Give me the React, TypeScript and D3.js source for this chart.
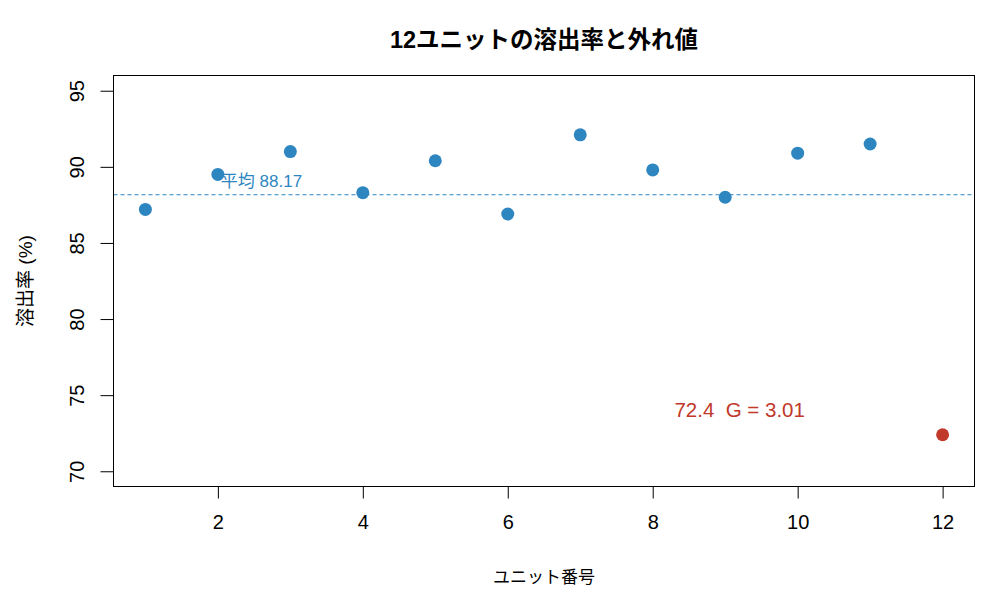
import React, { useEffect, useRef } from 'react';
import * as d3 from 'd3';

const units = [1, 2, 3, 4, 5, 6, 7, 8, 9, 10, 11, 12];
const dissolution = [87.2, 89.5, 91.0, 88.3, 90.4, 86.9, 92.1, 89.8, 88.0, 90.9, 91.5, 72.4];
const outlierIndex = 11;
const gStat = 3.01;
const xTicks = [2, 4, 6, 8, 10, 12];
const yTicks = [70, 75, 80, 85, 90, 95];

const BLUE = '#2e86c1';
const RED = '#c0392b';
const FONT = '"Liberation Sans", Arial, "Noto Sans CJK JP", sans-serif';

export default function App() {
  const svgRef = useRef<SVGSVGElement>(null);

  useEffect(() => {
    if (!svgRef.current) return;
    const svg = d3.select(svgRef.current);
    svg.selectAll('*').remove();

    const left = 113.5, right = 974.5, top = 75.5, bottom = 486.5;

    const x = d3.scaleLinear().domain([0.56, 12.44]).range([left, right]);
    const y = d3.scaleLinear().domain([69, 96]).range([bottom, top]);

    const mean = d3.mean(dissolution) || 0;

    // title
    svg.append('text')
      .attr('x', (left + right) / 2)
      .attr('y', 48)
      .attr('text-anchor', 'middle')
      .attr('font-size', 23.5)
      .attr('font-weight', 'bold')
      .attr('font-family', FONT)
      .text('12ユニットの溶出率と外れ値');

    // mean line
    svg.append('line')
      .attr('x1', left).attr('x2', right)
      .attr('y1', y(mean)).attr('y2', y(mean))
      .attr('stroke', BLUE)
      .attr('stroke-width', 1)
      .attr('stroke-dasharray', '4,3');

    svg.append('text')
      .attr('x', x(2) + 3)
      .attr('y', y(mean) - 8)
      .attr('font-size', 17)
      .attr('font-family', FONT)
      .attr('fill', BLUE)
      .text(`平均 ${mean.toFixed(2)}`);

    // points
    svg.append('g')
      .selectAll('circle')
      .data(dissolution)
      .enter()
      .append('circle')
      .attr('cx', (d, i) => x(units[i]))
      .attr('cy', d => y(d))
      .attr('r', 6.5)
      .attr('fill', (d, i) => (i === outlierIndex ? RED : BLUE));

    svg.append('text')
      .attr('x', x(units[outlierIndex] - 2.8))
      .attr('y', y(dissolution[outlierIndex]) - 18)
      .attr('text-anchor', 'middle')
      .attr('font-size', 20.5)
      .attr('font-family', FONT)
      .attr('fill', RED)
      .style('white-space', 'pre')
      .text(`${dissolution[outlierIndex]}  G = ${gStat.toFixed(2)}`);

    // box
    svg.append('rect')
      .attr('x', left).attr('y', top)
      .attr('width', right - left).attr('height', bottom - top)
      .attr('fill', 'none')
      .attr('stroke', '#000')
      .attr('stroke-width', 1);

    // x axis
    const xAxis = svg.append('g')
      .attr('transform', `translate(0,${bottom})`)
      .call(d3.axisBottom(x).tickValues(xTicks).tickSize(12).tickPadding(16).tickSizeOuter(0));
    xAxis.select('.domain').remove();
    xAxis.selectAll('text')
      .attr('font-size', 20)
      .attr('font-family', FONT)
      .attr('fill', '#000');

    // y axis
    const yAxis = svg.append('g')
      .attr('transform', `translate(${left},0)`)
      .call(d3.axisLeft(y).tickValues(yTicks).tickSize(13).tickSizeOuter(0));
    yAxis.select('.domain').remove();
    yAxis.selectAll('text').remove();
    yAxis.selectAll('.tick')
      .append('text')
      .attr('transform', 'translate(-37,0) rotate(-90)')
      .attr('text-anchor', 'middle')
      .attr('dy', '0.35em')
      .attr('font-size', 20)
      .attr('font-family', FONT)
      .attr('fill', '#000')
      .text(d => String(d));

    // axis labels
    svg.append('text')
      .attr('x', (left + right) / 2)
      .attr('y', 583)
      .attr('text-anchor', 'middle')
      .attr('font-size', 17)
      .attr('font-family', FONT)
      .text('ユニット番号');

    svg.append('text')
      .attr('transform', `translate(32,${(top + bottom) / 2}) rotate(-90)`)
      .attr('text-anchor', 'middle')
      .attr('font-size', 19)
      .attr('font-family', FONT)
      .text('溶出率 (%)');
  }, []);

  return (
    <svg
      ref={svgRef}
      width={1000}
      height={600}
      style={{ position: 'absolute', left: 0, top: 0, background: '#fff' }}
    />
  );
}
